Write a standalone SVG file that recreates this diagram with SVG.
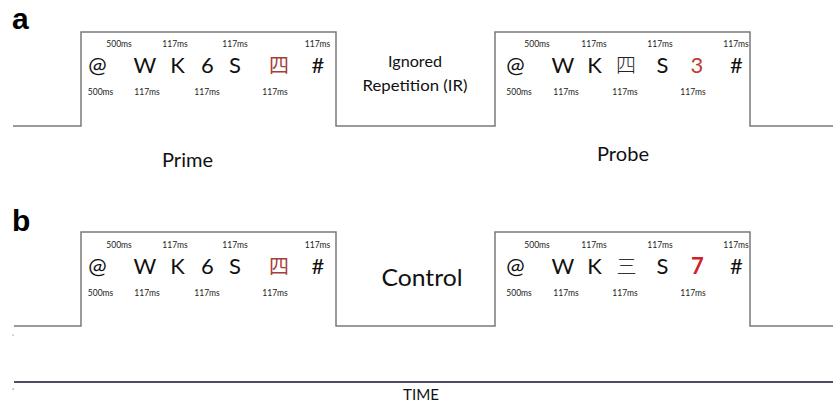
<svg xmlns="http://www.w3.org/2000/svg" width="833" height="403" viewBox="0 0 833 403">
  <style>
    .wave { fill: none; stroke: #7a7a7a; stroke-width: 1.5; }
    .axis { fill: none; stroke: #4b4d66; stroke-width: 2; }
    .panel { font-family: "Liberation Sans", Arial, sans-serif; font-weight: bold; font-size: 30px; fill: #000; }
    .ch { font-family: Lato, "Open Sans", sans-serif; font-size: 22px; fill: #111; text-anchor: middle; }
    .cjk { font-family: "Noto Sans CJK SC", "Noto Sans CJK JP", sans-serif; font-size: 20px; font-weight: 300; text-anchor: middle; }
    .t { font-family: Lato, "Open Sans", sans-serif; font-size: 8.5px; fill: #222; text-anchor: middle; }
    .lbl { font-family: Lato, "Open Sans", sans-serif; fill: #111; text-anchor: middle; }
    .red1 { fill: #a63f3c; font-weight: 400; }
    .red2 { fill: #c0392b; }
    .red3 { fill: #d0202a; font-weight: bold; }
  </style>

  <!-- timing waveforms -->
  <g id="connectors">
    <path class="wave" d="M13,126 H81 V32 H336 V126 H495 V32 H750 V126 H833"/>
    <path class="wave" d="M14,326 H81 V232 H336 V326 H495 V232 H750 V326 H833"/>
    <path class="axis" d="M14,382 H833"/>
    <rect x="12.5" y="334.5" width="1.2" height="1.2" fill="#999"/>
    <rect x="12.5" y="388.5" width="1.2" height="1.2" fill="#777"/>
  </g>

  <text class="panel" x="12" y="29">a</text>
  <text class="panel" x="12" y="231">b</text>

  <!-- panel a: prime stream -->
  <g id="a-prime">
    <text class="ch" x="97.5" y="73">@</text>
    <text class="ch" x="145" y="73">W</text>
    <text class="ch" x="177.5" y="73">K</text>
    <text class="ch" x="207.5" y="73">6</text>
    <text class="ch" x="235" y="73">S</text>
    <text class="cjk red1" x="279" y="73">四</text>
    <text class="ch" x="318" y="73">#</text>
    <text class="t" x="119" y="47">500ms</text>
    <text class="t" x="175" y="47">117ms</text>
    <text class="t" x="235" y="47">117ms</text>
    <text class="t" x="317.5" y="47">117ms</text>
    <text class="t" x="100.5" y="95">500ms</text>
    <text class="t" x="147" y="95">117ms</text>
    <text class="t" x="207" y="95">117ms</text>
    <text class="t" x="275" y="95">117ms</text>
    <text class="lbl" x="187.5" y="167" font-size="19.5" textLength="51" lengthAdjust="spacingAndGlyphs">Prime</text>
  </g>

  <g id="a-ir">
    <text class="lbl" x="415" y="67" font-size="16" textLength="54" lengthAdjust="spacingAndGlyphs">Ignored</text>
    <text class="lbl" x="415" y="91" font-size="16" textLength="105" lengthAdjust="spacingAndGlyphs">Repetition (IR)</text>
  </g>

  <!-- panel a: probe stream -->
  <g id="a-probe">
    <text class="ch" x="515.5" y="73">@</text>
    <text class="ch" x="563" y="73">W</text>
    <text class="ch" x="594.5" y="73">K</text>
    <text class="cjk" x="626" y="73" fill="#222">四</text>
    <text class="ch" x="662.5" y="73">S</text>
    <text class="ch red2" x="697" y="73">3</text>
    <text class="ch" x="736.5" y="73">#</text>
    <text class="t" x="537" y="47">500ms</text>
    <text class="t" x="594" y="47">117ms</text>
    <text class="t" x="660" y="47">117ms</text>
    <text class="t" x="736" y="47">117ms</text>
    <text class="t" x="519" y="95">500ms</text>
    <text class="t" x="566" y="95">117ms</text>
    <text class="t" x="625" y="95">117ms</text>
    <text class="t" x="693" y="95">117ms</text>
    <text class="lbl" x="623" y="161" font-size="19.5" textLength="52" lengthAdjust="spacingAndGlyphs">Probe</text>
  </g>

  <!-- panel b: prime stream -->
  <g id="b-prime">
    <text class="ch" x="97.5" y="274">@</text>
    <text class="ch" x="145" y="274">W</text>
    <text class="ch" x="177.5" y="274">K</text>
    <text class="ch" x="207.5" y="274">6</text>
    <text class="ch" x="235" y="274">S</text>
    <text class="cjk red1" x="279" y="274">四</text>
    <text class="ch" x="318" y="274">#</text>
    <text class="t" x="119" y="248">500ms</text>
    <text class="t" x="175" y="248">117ms</text>
    <text class="t" x="235" y="248">117ms</text>
    <text class="t" x="317.5" y="248">117ms</text>
    <text class="t" x="100.5" y="296">500ms</text>
    <text class="t" x="147" y="296">117ms</text>
    <text class="t" x="207" y="296">117ms</text>
    <text class="t" x="275" y="296">117ms</text>
  </g>

  <g id="b-control">
    <text class="lbl" x="422" y="286" font-size="23.5" textLength="81" lengthAdjust="spacingAndGlyphs">Control</text>
  </g>

  <!-- panel b: probe stream -->
  <g id="b-probe">
    <text class="ch" x="515.5" y="274">@</text>
    <text class="ch" x="563" y="274">W</text>
    <text class="ch" x="594.5" y="274">K</text>
    <text class="cjk" x="626.5" y="274" fill="#333" font-weight="200">三</text>
    <text class="ch" x="662.5" y="274">S</text>
    <text class="ch red3" x="697.5" y="274">7</text>
    <text class="ch" x="736.5" y="274">#</text>
    <text class="t" x="537" y="248">500ms</text>
    <text class="t" x="594" y="248">117ms</text>
    <text class="t" x="660" y="248">117ms</text>
    <text class="t" x="736" y="248">117ms</text>
    <text class="t" x="519" y="296">500ms</text>
    <text class="t" x="566" y="296">117ms</text>
    <text class="t" x="625" y="296">117ms</text>
    <text class="t" x="693" y="296">117ms</text>
  </g>

  <g id="time-axis">
    <text class="lbl" x="421" y="400" font-size="15.5" textLength="36" lengthAdjust="spacingAndGlyphs">TIME</text>
  </g>
</svg>
